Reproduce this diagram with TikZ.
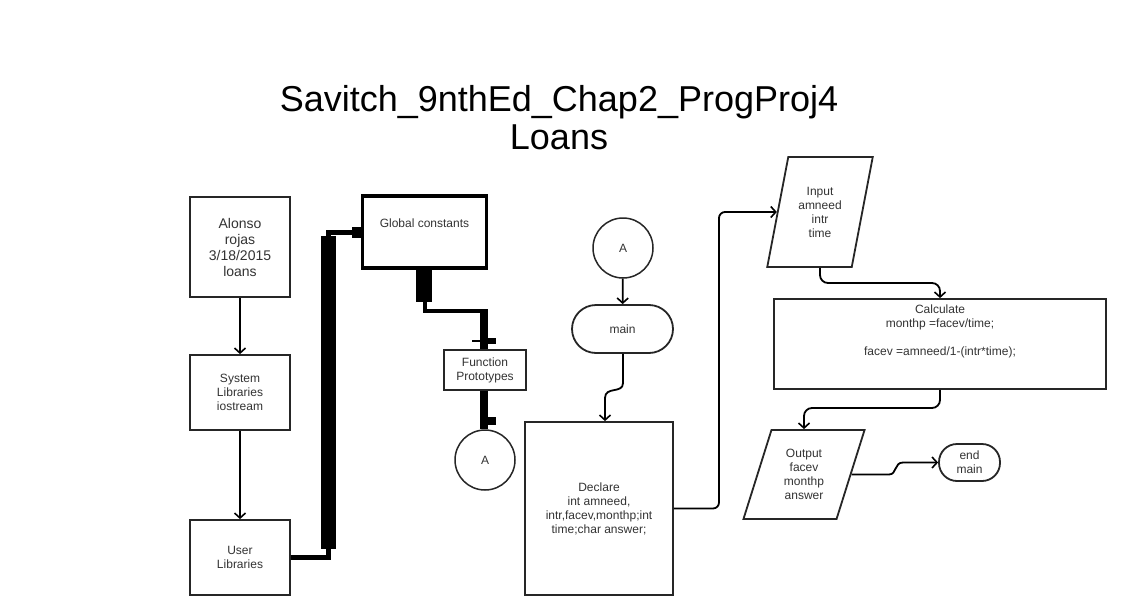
\documentclass[tikz,border=0pt]{standalone}
\usepackage{fontspec}
\setmainfont{Liberation Sans}
\usetikzlibrary{shapes.geometric,arrows.meta,positioning,calc}

\begin{document}
\begin{tikzpicture}[x=1pt, y=-1pt,
    procbox/.style={rectangle, draw=black!85, line width=1.8pt, fill=white, align=center,
        font=\fontsize{12}{14}\selectfont, text=black!80, inner sep=2pt},
    termbox/.style={procbox, rounded corners=18pt},
    iobox/.style={trapezium, draw=black!85, line width=1.8pt, align=center, trapezium stretches=true,
        font=\fontsize{12}{14}\selectfont, text=black!80, inner sep=1pt},
    connbox/.style={circle, draw=black!85, line width=1.5pt, minimum size=60pt,
        font=\fontsize{12}{14}\selectfont, text=black!80},
    flow/.style={-{Straight Barb[length=5pt,width=11pt,line width=1.6pt]}, line width=1.8pt, black},
    heavy/.style={line width=5pt, black}
]
    \useasboundingbox (0,0) rectangle (1126,615);
    \fill[white] (0,0) rectangle (1126,615);

    % title
    \node[anchor=base, font=\fontsize{36}{38}\selectfont] (title1) at (559,112) {Savitch\_9nthEd\_Chap2\_ProgProj4};
    \node[anchor=base, font=\fontsize{36}{38}\selectfont] (title2) at (559,149) {Loans};

    % left column
    \node[procbox, minimum width=100pt, minimum height=100pt, font=\fontsize{14}{16}\selectfont] (author) at (240,247) {Alonso\\rojas\\3/18/2015\\loans};
    \node[procbox, minimum width=100pt, minimum height=75pt] (syslib) at (240,392.5) {System\\Libraries\\iostream};
    \node[procbox, minimum width=100pt, minimum height=75pt] (userlib) at (240,557.5) {User\\Libraries};

    \node[procbox, line width=3.5pt, draw=black, minimum width=124pt, minimum height=72pt, text depth=17pt] (glob) at (424.5,232) {Global constants};
    \node[procbox, minimum width=82pt, minimum height=40pt] (proto) at (485,370) {Function\\Prototypes};
    \node[connbox] (conA) at (485,460) {A};

    % main column
    \node[connbox] (conB) at (623,248) {A};
    \node[termbox, minimum width=101pt, minimum height=48pt, rounded corners=24pt] (main) at (622.5,329) {main};
    \node[procbox, minimum width=148pt, minimum height=173pt] (decl) at (599,508.5) {Declare\\int amneed,\\intr,facev,monthp;int\\time;char answer;};

    \node[iobox, minimum width=106pt, minimum height=110pt, trapezium left angle=74, trapezium right angle=106] (inp) at (820,212) {Input\\amneed\\intr\\time};
    \node[procbox, minimum width=332pt, minimum height=90pt, text depth=28pt] (calc) at (940,344) {Calculate\\monthp =facev/time;\\[14pt]facev =amneed/1-(intr*time);};
    \node[iobox, minimum width=122pt, minimum height=89pt, trapezium left angle=71, trapezium right angle=109] (outp) at (804,474.5) {Output\\facev\\monthp\\answer};
    \node[termbox, minimum width=61pt, minimum height=37pt] (endm) at (969.5,462.5) {end\\main};

    % left connectors
    \draw[flow] (author) -- (syslib);
    \draw[flow] (syslib) -- (userlib);

    \draw[heavy] (userlib.east) -- ++(38,0) |- (glob.west);
    \draw[line width=15pt] (328,236) -- (328,549);
    \fill (352,227) rectangle (363,238);

    \draw[line width=4pt] (glob.south) -- ++(0,41) -| (proto.north);
    \draw[line width=16pt] (424,268) -- (424,302);
    \draw[line width=8pt] (484,309) -- (proto.north -| 484,0);
    \draw[line width=1.5pt] (472,341) -- (480,341);
    \fill (480,338) rectangle (496,344);

    \draw[line width=8pt] (proto.south -| 484,0) -- (conA.north -| 484,0);
    \fill (488,417) rectangle (496,425);

    % main connectors
    \draw[flow] (conB) -- (main);
    \draw[flow] (main.south -| 623,0) -- (623,383) .. controls (623,394) and (605,386) .. (605,398) -- (decl.north -| 605,0);
    \draw[flow, rounded corners=6pt] (decl.east) -- (719,508.5) |- (inp.west);
    \draw[flow, rounded corners=8pt] (inp.center |- inp.south) -- (820,283) -| (calc.north);
    \draw[flow, rounded corners=8pt] (calc.south) -- (940,408) -| (outp.center |- outp.north);
    \draw[flow] (outp.east) -- (889,474.5) .. controls (897,474.5) and (894,462.5) .. (903,462.5) -- (endm.west);
\end{tikzpicture}
\end{document}
